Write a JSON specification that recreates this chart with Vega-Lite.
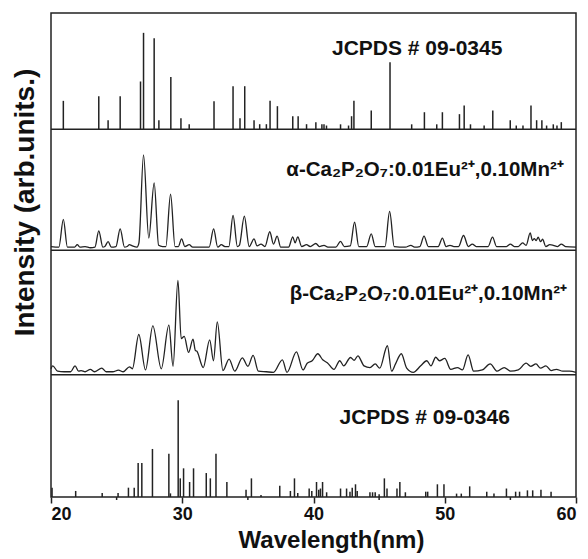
{
  "$schema": "https://vega.github.io/schema/vega-lite/v6.json",
  "width": 525,
  "height": 484,
  "autosize": {"type": "none"},
  "padding": {"left": 51, "top": 13, "right": 12, "bottom": 62},
  "config": {
    "view": {"stroke": "#222", "strokeWidth": 1.5},
    "font": "Liberation Sans",
    "text": {"font": "Liberation Sans", "fontWeight": "bold", "color": "#111"}
  },
  "datasets": {
    "jcpds0345": [
      {"x": 20.94, "i": 23.4}, {"x": 23.64, "i": 27.3}, {"x": 24.35, "i": 7.4}, {"x": 25.27, "i": 27.3},
      {"x": 26.82, "i": 39.4}, {"x": 27.05, "i": 79.6}, {"x": 27.86, "i": 75.2}, {"x": 28.22, "i": 7.4},
      {"x": 29.13, "i": 43.2}, {"x": 29.9, "i": 9.1}, {"x": 30.53, "i": 4.1}, {"x": 32.42, "i": 23.1},
      {"x": 33.87, "i": 35.5}, {"x": 34.4, "i": 9.1}, {"x": 34.76, "i": 35.5}, {"x": 35.47, "i": 7.4},
      {"x": 35.9, "i": 4.1}, {"x": 36.41, "i": 4.1}, {"x": 36.69, "i": 23.4}, {"x": 37.25, "i": 19},
      {"x": 38.42, "i": 10.7}, {"x": 38.83, "i": 10.7}, {"x": 39.47, "i": 4.1}, {"x": 40.18, "i": 5.8},
      {"x": 40.64, "i": 4.1}, {"x": 40.8, "i": 4}, {"x": 40.99, "i": 3}, {"x": 42.06, "i": 4},
      {"x": 42.67, "i": 3}, {"x": 42.9, "i": 10.7}, {"x": 43.08, "i": 23.4}, {"x": 44.4, "i": 15.5},
      {"x": 45.83, "i": 55.4}, {"x": 47.48, "i": 4}, {"x": 48.45, "i": 14}, {"x": 49.39, "i": 4},
      {"x": 49.82, "i": 14}, {"x": 51.12, "i": 12.4}, {"x": 51.48, "i": 19.6}, {"x": 51.96, "i": 4},
      {"x": 53.0, "i": 3}, {"x": 53.66, "i": 15.5}, {"x": 54.99, "i": 7.4}, {"x": 55.45, "i": 3},
      {"x": 55.96, "i": 3}, {"x": 56.57, "i": 19.6}, {"x": 57.0, "i": 7.4}, {"x": 57.4, "i": 7.4},
      {"x": 57.76, "i": 3}, {"x": 58.27, "i": 4}, {"x": 58.55, "i": 3}, {"x": 58.88, "i": 5.8}
    ],
    "alpha": [
      {"x": 20.0, "i": 3}, {"x": 20.6, "i": 2.5}, {"x": 20.94, "i": 25.4}, {"x": 21.25, "i": 2.5},
      {"x": 21.8, "i": 2.5}, {"x": 22.0, "i": 4.5}, {"x": 22.2, "i": 2.5}, {"x": 22.6, "i": 3},
      {"x": 23.0, "i": 2}, {"x": 23.35, "i": 2.5}, {"x": 23.64, "i": 16}, {"x": 23.95, "i": 2.5},
      {"x": 24.1, "i": 3}, {"x": 24.35, "i": 7}, {"x": 24.6, "i": 2.5}, {"x": 24.95, "i": 3},
      {"x": 25.27, "i": 17.6}, {"x": 25.6, "i": 2.5}, {"x": 25.8, "i": 3}, {"x": 25.98, "i": 4.5},
      {"x": 26.2, "i": 3.5}, {"x": 26.55, "i": 2.5}, {"x": 26.7, "i": 6}, {"x": 27.05, "i": 78.8},
      {"x": 27.45, "i": 10}, {"x": 27.86, "i": 55.6}, {"x": 28.2, "i": 4}, {"x": 28.5, "i": 3},
      {"x": 28.75, "i": 3}, {"x": 29.11, "i": 46.3}, {"x": 29.45, "i": 3}, {"x": 29.7, "i": 3},
      {"x": 29.95, "i": 9.4}, {"x": 30.2, "i": 3}, {"x": 30.53, "i": 4.5}, {"x": 30.8, "i": 2.5},
      {"x": 31.5, "i": 2.5}, {"x": 32.05, "i": 2.5}, {"x": 32.39, "i": 17.6}, {"x": 32.7, "i": 2.5},
      {"x": 32.98, "i": 4.5}, {"x": 33.25, "i": 3}, {"x": 33.55, "i": 3}, {"x": 33.87, "i": 28.7},
      {"x": 34.2, "i": 3}, {"x": 34.35, "i": 4}, {"x": 34.73, "i": 28.1}, {"x": 35.1, "i": 3},
      {"x": 35.47, "i": 9.4}, {"x": 35.7, "i": 3.5}, {"x": 36.0, "i": 5}, {"x": 36.3, "i": 3},
      {"x": 36.67, "i": 15.2}, {"x": 36.95, "i": 5}, {"x": 37.23, "i": 11.6}, {"x": 37.5, "i": 2.5},
      {"x": 38.1, "i": 2.5}, {"x": 38.42, "i": 11}, {"x": 38.6, "i": 6}, {"x": 38.8, "i": 11},
      {"x": 39.1, "i": 3}, {"x": 39.47, "i": 4.5}, {"x": 39.75, "i": 3}, {"x": 40.18, "i": 5.5},
      {"x": 40.45, "i": 3}, {"x": 40.8, "i": 4}, {"x": 41.1, "i": 2.5}, {"x": 41.7, "i": 2.5},
      {"x": 42.06, "i": 7.2}, {"x": 42.35, "i": 3}, {"x": 42.8, "i": 3.5}, {"x": 43.13, "i": 23.1},
      {"x": 43.45, "i": 3}, {"x": 44.05, "i": 3}, {"x": 44.4, "i": 13.5}, {"x": 44.7, "i": 3},
      {"x": 45.45, "i": 3}, {"x": 45.8, "i": 32}, {"x": 46.15, "i": 3}, {"x": 47.0, "i": 2.5},
      {"x": 47.42, "i": 4}, {"x": 47.7, "i": 2.5}, {"x": 48.1, "i": 3}, {"x": 48.42, "i": 11.6},
      {"x": 48.75, "i": 3}, {"x": 49.5, "i": 3}, {"x": 49.82, "i": 10}, {"x": 50.1, "i": 3},
      {"x": 50.4, "i": 4}, {"x": 50.7, "i": 3}, {"x": 51.05, "i": 3}, {"x": 51.43, "i": 12.1},
      {"x": 51.8, "i": 3}, {"x": 52.1, "i": 5}, {"x": 52.4, "i": 3}, {"x": 53.3, "i": 3},
      {"x": 53.64, "i": 10.7}, {"x": 53.95, "i": 3}, {"x": 54.7, "i": 3}, {"x": 55.0, "i": 5},
      {"x": 55.3, "i": 3}, {"x": 55.6, "i": 3}, {"x": 55.93, "i": 6}, {"x": 56.2, "i": 4},
      {"x": 56.51, "i": 14.3}, {"x": 56.68, "i": 8}, {"x": 56.82, "i": 9.6}, {"x": 56.97, "i": 8},
      {"x": 57.12, "i": 10.7}, {"x": 57.3, "i": 7}, {"x": 57.45, "i": 9}, {"x": 57.7, "i": 3},
      {"x": 58.0, "i": 4.5}, {"x": 58.27, "i": 4}, {"x": 58.6, "i": 3}, {"x": 58.88, "i": 5},
      {"x": 59.2, "i": 3}, {"x": 60.0, "i": 2.5}
    ],
    "beta": [
      {"x": 20.0, "i": 5}, {"x": 20.13, "i": 7.4}, {"x": 20.5, "i": 3}, {"x": 21.0, "i": 2.5},
      {"x": 21.5, "i": 2.5}, {"x": 21.83, "i": 7.4}, {"x": 22.1, "i": 3}, {"x": 22.3, "i": 3.5},
      {"x": 22.6, "i": 2.5}, {"x": 23.0, "i": 4.5}, {"x": 23.3, "i": 2.5}, {"x": 23.87, "i": 5.5},
      {"x": 24.2, "i": 2.5}, {"x": 24.7, "i": 2.5}, {"x": 25.14, "i": 3.8}, {"x": 25.5, "i": 2.5},
      {"x": 25.98, "i": 6.6}, {"x": 26.2, "i": 5}, {"x": 26.69, "i": 33.3}, {"x": 27.2, "i": 4},
      {"x": 27.76, "i": 40.5}, {"x": 28.4, "i": 5}, {"x": 28.98, "i": 41}, {"x": 29.3, "i": 7},
      {"x": 29.67, "i": 78}, {"x": 29.92, "i": 30}, {"x": 30.15, "i": 31.7}, {"x": 30.48, "i": 18.5},
      {"x": 30.82, "i": 29.4}, {"x": 31.0, "i": 20}, {"x": 31.1, "i": 19.6}, {"x": 31.6, "i": 6},
      {"x": 32.09, "i": 28.9}, {"x": 32.38, "i": 11.6}, {"x": 32.67, "i": 43.8}, {"x": 33.1, "i": 3.5},
      {"x": 33.57, "i": 13}, {"x": 34.0, "i": 3}, {"x": 34.58, "i": 14}, {"x": 35.0, "i": 7},
      {"x": 35.4, "i": 16}, {"x": 35.8, "i": 3}, {"x": 36.4, "i": 2.5}, {"x": 36.95, "i": 2},
      {"x": 37.63, "i": 12.4}, {"x": 37.98, "i": 2}, {"x": 38.7, "i": 19}, {"x": 39.2, "i": 4},
      {"x": 39.52, "i": 9.6}, {"x": 39.9, "i": 11.6}, {"x": 40.33, "i": 17.4}, {"x": 40.7, "i": 12.4},
      {"x": 41.05, "i": 10}, {"x": 41.56, "i": 4.5}, {"x": 42.0, "i": 11.6}, {"x": 42.3, "i": 7.4},
      {"x": 42.82, "i": 14.3}, {"x": 43.1, "i": 12}, {"x": 43.38, "i": 15.7}, {"x": 43.85, "i": 7.4},
      {"x": 44.3, "i": 6}, {"x": 44.7, "i": 9}, {"x": 45.05, "i": 5.5}, {"x": 45.63, "i": 24},
      {"x": 45.95, "i": 3}, {"x": 46.25, "i": 9}, {"x": 46.69, "i": 17.4}, {"x": 47.1, "i": 5.5},
      {"x": 47.6, "i": 2}, {"x": 48.17, "i": 7.4}, {"x": 48.63, "i": 11.6}, {"x": 48.95, "i": 7.4},
      {"x": 49.31, "i": 14.5}, {"x": 49.6, "i": 11.6}, {"x": 50.0, "i": 13.5}, {"x": 50.46, "i": 4.5},
      {"x": 50.97, "i": 6}, {"x": 51.35, "i": 4}, {"x": 51.78, "i": 16.5}, {"x": 52.2, "i": 3},
      {"x": 52.86, "i": 4}, {"x": 53.46, "i": 9}, {"x": 54.0, "i": 3}, {"x": 54.53, "i": 6},
      {"x": 55.0, "i": 3}, {"x": 55.6, "i": 4}, {"x": 56.2, "i": 9.6}, {"x": 56.55, "i": 7},
      {"x": 56.95, "i": 9}, {"x": 57.3, "i": 5.5}, {"x": 57.71, "i": 7.4}, {"x": 58.1, "i": 3.5},
      {"x": 58.5, "i": 4.5}, {"x": 59.0, "i": 3}, {"x": 59.5, "i": 3}, {"x": 60.0, "i": 2}
    ],
    "jcpds0346": [
      {"x": 20.08, "i": 7.7}, {"x": 21.88, "i": 5}, {"x": 23.9, "i": 3.3}, {"x": 25.11, "i": 3.3},
      {"x": 25.9, "i": 7.7}, {"x": 26.34, "i": 7.7}, {"x": 26.64, "i": 28.1}, {"x": 26.92, "i": 28.1},
      {"x": 27.73, "i": 39.7}, {"x": 28.98, "i": 35.8}, {"x": 29.1, "i": 3}, {"x": 29.69, "i": 80},
      {"x": 29.85, "i": 15.4}, {"x": 30.1, "i": 23.7}, {"x": 30.56, "i": 12.4}, {"x": 30.86, "i": 23.7},
      {"x": 31.83, "i": 19.8}, {"x": 32.14, "i": 15.4}, {"x": 32.57, "i": 35.8}, {"x": 33.4, "i": 12.4},
      {"x": 34.86, "i": 6}, {"x": 35.27, "i": 15.4}, {"x": 36.0, "i": 1.7}, {"x": 37.43, "i": 9.3},
      {"x": 38.24, "i": 5}, {"x": 38.55, "i": 15.4}, {"x": 38.8, "i": 3.3}, {"x": 39.67, "i": 7},
      {"x": 39.87, "i": 5}, {"x": 40.23, "i": 12.4}, {"x": 40.4, "i": 6}, {"x": 40.53, "i": 7},
      {"x": 40.69, "i": 12.4}, {"x": 41.0, "i": 3.9}, {"x": 42.06, "i": 7}, {"x": 42.52, "i": 7},
      {"x": 42.78, "i": 4.4}, {"x": 42.95, "i": 7.7}, {"x": 43.2, "i": 10.5}, {"x": 43.33, "i": 5},
      {"x": 44.3, "i": 3.9}, {"x": 44.5, "i": 3.9}, {"x": 44.7, "i": 3.9}, {"x": 45.0, "i": 2.2},
      {"x": 45.4, "i": 15.4}, {"x": 45.6, "i": 7}, {"x": 46.36, "i": 7}, {"x": 46.58, "i": 12.4},
      {"x": 47.0, "i": 3.9}, {"x": 48.55, "i": 4.4}, {"x": 48.7, "i": 4.4}, {"x": 49.44, "i": 10.5},
      {"x": 49.94, "i": 10.5}, {"x": 50.9, "i": 2.8}, {"x": 51.26, "i": 2.8}, {"x": 51.9, "i": 8.8},
      {"x": 53.2, "i": 4.4}, {"x": 53.75, "i": 2.8}, {"x": 54.7, "i": 7}, {"x": 55.4, "i": 4.4},
      {"x": 55.7, "i": 4.4}, {"x": 56.3, "i": 5.5}, {"x": 56.7, "i": 5.5}, {"x": 57.33, "i": 6},
      {"x": 58.1, "i": 4.4}
    ],
    "minor": [{"x": 25}, {"x": 35}, {"x": 45}, {"x": 55}],
    "separators": [{"panel": "top"}, {"panel": "alpha"}, {"panel": "beta"}]
  },
  "layer": [
    {
      "data": {"name": "jcpds0345"},
      "transform": [{"calculate": "304", "as": "base"}, {"calculate": "datum.i + 304", "as": "top"}],
      "mark": {"type": "rule", "color": "#222", "strokeWidth": 1.5},
      "encoding": {
        "x": {"field": "x", "type": "quantitative", "scale": {"domain": [20, 60], "nice": false},
          "axis": {"values": [20, 30, 40, 50, 60], "title": "Wavelength(nm)", "domain": false, "grid": false,
            "tickSize": 6, "tickColor": "#222", "tickWidth": 1.5,
            "labelFont": "Liberation Sans", "labelFontSize": 18, "labelFontWeight": "bold", "labelColor": "#111", "labelPadding": 2,
            "titleFont": "Liberation Sans", "titleFontSize": 24, "titleFontWeight": "bold", "titleColor": "#111",
            "titleX": 280, "titleY": 50, "titleBaseline": "alphabetic", "titleAlign": "center"}},
        "y": {"field": "base", "type": "quantitative", "scale": {"domain": [0, 400], "nice": false, "zero": true},
          "axis": {"title": "Intensity (arb.units.)", "domain": false, "ticks": false, "labels": false, "grid": false,
            "titleFont": "Liberation Sans", "titleFontSize": 28, "titleFontWeight": "bold", "titleColor": "#111",
            "titleX": -26, "titleY": 189, "titleBaseline": "middle", "titleAlign": "center", "titleAngle": -90}},
        "y2": {"field": "top"}
      }
    },
    {
      "data": {"name": "alpha"},
      "transform": [{"calculate": "datum.i + 204", "as": "v"}],
      "mark": {"type": "line", "color": "#222", "strokeWidth": 1.3, "interpolate": "monotone"},
      "encoding": {
        "x": {"field": "x", "type": "quantitative"},
        "y": {"field": "v", "type": "quantitative"}
      }
    },
    {
      "data": {"name": "beta"},
      "transform": [{"calculate": "datum.i + 101", "as": "v"}],
      "mark": {"type": "line", "color": "#222", "strokeWidth": 1.3, "interpolate": "monotone"},
      "encoding": {
        "x": {"field": "x", "type": "quantitative"},
        "y": {"field": "v", "type": "quantitative"}
      }
    },
    {
      "data": {"name": "jcpds0346"},
      "transform": [{"calculate": "0", "as": "base"}],
      "mark": {"type": "rule", "color": "#222", "strokeWidth": 1.5},
      "encoding": {
        "x": {"field": "x", "type": "quantitative"},
        "y": {"field": "base", "type": "quantitative"},
        "y2": {"field": "i"}
      }
    },
    {
      "data": {"name": "minor"},
      "transform": [{"calculate": "0", "as": "a"}, {"calculate": "-2.5", "as": "b"}],
      "mark": {"type": "rule", "color": "#222", "strokeWidth": 1.5, "clip": false},
      "encoding": {
        "x": {"field": "x", "type": "quantitative"},
        "y": {"field": "a", "type": "quantitative"},
        "y2": {"field": "b"}
      }
    },
    {
      "data": {"name": "separators"},
      "transform": [{"calculate": "datum.panel === 'top' ? 304 : datum.panel === 'alpha' ? 204 : 101", "as": "level"}],
      "mark": {"type": "rule", "color": "#222", "strokeWidth": 1.5},
      "encoding": {"y": {"field": "level", "type": "quantitative"}}
    },
    {
      "data": {"values": [{"label": "JCPDS # 09-0345", "x": 47.9, "y": 370}, {"label": "JCPDS # 09-0346", "x": 48.47, "y": 65}]},
      "mark": {"type": "text", "fontSize": 21, "align": "center", "baseline": "middle"},
      "encoding": {
        "x": {"field": "x", "type": "quantitative"},
        "y": {"field": "y", "type": "quantitative"},
        "text": {"field": "label", "type": "nominal"}
      }
    },
    {
      "data": {"values": [{"label": "α-Ca₂P₂O₇:0.01Eu²⁺,0.10Mn²⁺", "x": 48.5, "y": 270}, {"label": "β-Ca₂P₂O₇:0.01Eu²⁺,0.10Mn²⁺", "x": 48.75, "y": 168}]},
      "mark": {"type": "text", "fontSize": 20.5, "align": "center", "baseline": "middle"},
      "encoding": {
        "x": {"field": "x", "type": "quantitative"},
        "y": {"field": "y", "type": "quantitative"},
        "text": {"field": "label", "type": "nominal"}
      }
    }
  ]
}
